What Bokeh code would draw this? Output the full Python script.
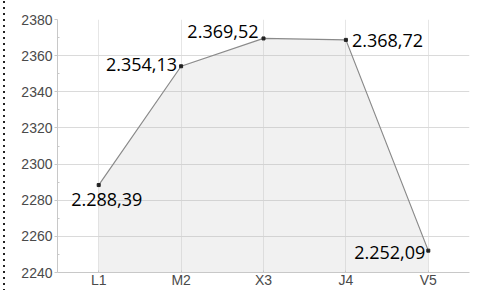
from bokeh.plotting import figure
from bokeh.models import Range1d, FactorRange, FixedTicker, ColumnDataSource
from bokeh.embed import file_html
from bokeh.resources import INLINE
from bokeh.core.properties import value

categories = ["L1", "M2", "X3", "J4", "V5"]
values = [2288.39, 2354.13, 2369.52, 2368.72, 2252.09]
labels = ["2.288,39", "2.354,13", "2.369,52", "2.368,72", "2.252,09"]
y_ticks = [2240, 2260, 2280, 2300, 2320, 2340, 2360, 2380]
y_min, y_max = 2240, 2380

# label styling (per point)
label_align = ["center", "right", "right", "left", "right"]
label_dx = [8, -4, -5, 6, -3]
label_dy = [14, -2, -7, 1, 2]

p = figure(width=477, height=290, x_range=FactorRange(*categories),
           y_range=Range1d(y_min, y_max), output_backend="svg",
           toolbar_location=None, min_border_left=57, min_border_top=19,
           min_border_right=8, min_border_bottom=10)
p.outline_line_color = None
p.background_fill_color = "white"
p.border_fill_alpha = 0
p.styles = {"background-image": "linear-gradient(#222222 34%, rgba(0,0,0,0) 0%)",
            "background-size": "2px 6px",
            "background-repeat": "repeat-y",
            "background-position": "3px 1px"}

src = ColumnDataSource(dict(x=categories, y=values, base=[y_min] * len(values),
                            label=labels, align=label_align, dx=label_dx, dy=label_dy))

p.varea(x="x", y1="base", y2="y", source=src, fill_color="#b8b8b8", fill_alpha=0.2)
p.line(x="x", y="y", source=src, line_color="#8a8a8a", line_width=1.2)
p.scatter(x="x", y="y", source=src, marker="square", size=3, color="#222222")
p.text(x="x", y="y", text="label", source=src, text_align="align",
       text_baseline="middle", x_offset="dx", y_offset="dy",
       text_font=value("Open Sans"), text_font_size="18px", text_color="#000000")

p.yaxis.ticker = FixedTicker(ticks=y_ticks, minor_ticks=[v + 10 for v in y_ticks[:-1]])
p.ygrid.ticker = FixedTicker(ticks=y_ticks)
p.ygrid.grid_line_color = "#dadada"
p.xgrid.grid_line_color = "#e6e6e6"

for ax in (p.xaxis, p.yaxis):
    ax.axis_line_color = "#c8c8c8"
    ax.major_tick_line_color = "#c8c8c8"
    ax.minor_tick_line_color = "#c8c8c8"
    ax.major_label_text_color = "#4a4a4a"
    ax.major_label_text_font = "Liberation Sans"
    ax.major_label_text_font_size = "14px"
    ax.major_tick_in = 0
    ax.major_tick_out = 3
    ax.minor_tick_in = 2
    ax.minor_tick_out = 0
    ax.major_label_standoff = 2

p.xaxis.major_tick_in = 2
p.xaxis.major_tick_out = 0
p.xaxis.major_label_standoff = -1

open("out.html", "w").write(file_html(p, INLINE))
